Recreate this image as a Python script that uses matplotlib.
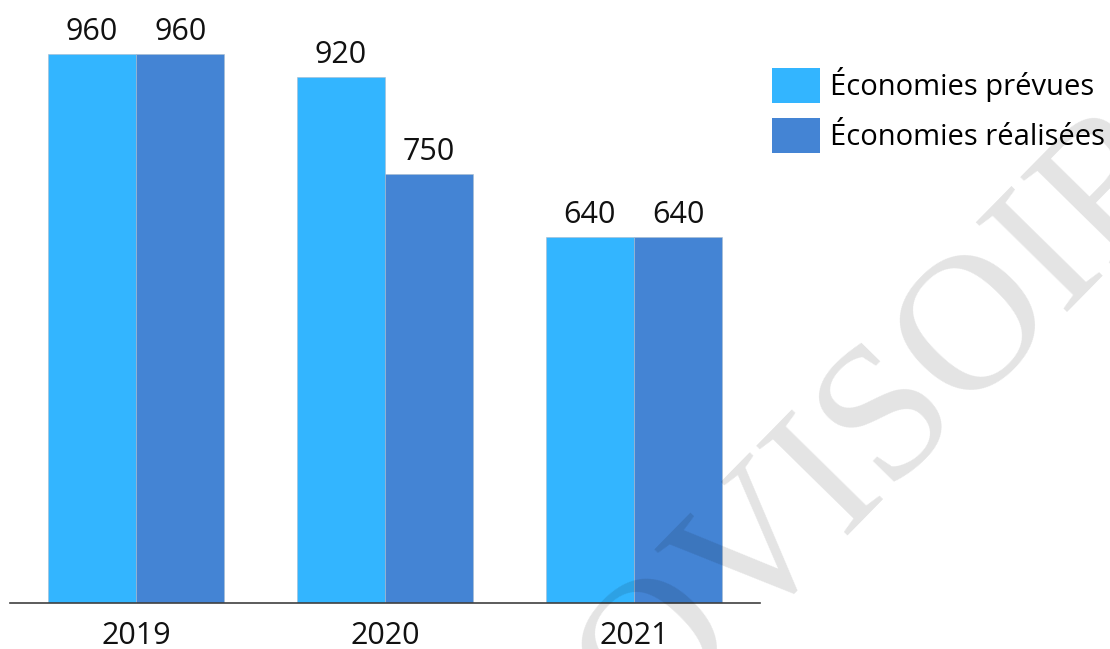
import numpy as np
import matplotlib
matplotlib.use("Agg")
import matplotlib.pyplot as plt
from matplotlib.patches import Patch

years = ["2019", "2020", "2021"]
prevues = [960, 920, 640]
realisees = [960, 750, 640]
series_names = ["Économies prévues", "Économies réalisées"]
colors = ["#33B5FF", "#4484D4"]

W, H = 1110, 649
fig = plt.figure(figsize=(W / 100, H / 100), dpi=100)
ax = fig.add_axes([10 / W, 1 - 603 / H, 750 / W, 603 / H])

x = np.arange(len(years))
width = 0.355
font = "Open Sans"
fs = 22

for offset, vals, col in [(-width / 2, prevues, colors[0]),
                          (width / 2, realisees, colors[1])]:
    bars = ax.bar(x + offset, vals, width, color=col,
                  edgecolor="#a9bccd", linewidth=0.4, zorder=2)
    for b, v in zip(bars, vals):
        ax.annotate(f"{v}", (b.get_x() + b.get_width() / 2, v),
                    xytext=(0, 5), textcoords="offset points",
                    ha="center", va="bottom", fontsize=fs,
                    family=font, color="#111111")

ax.set_xlim(-0.506, 2.506)
ax.set_ylim(0, 1054)
ax.set_xticks(x)
ax.set_xticklabels(years, fontsize=fs, family=font, color="#111111")
ax.tick_params(axis="x", length=0, pad=13)
ax.set_yticks([])
for side in ["top", "left", "right"]:
    ax.spines[side].set_visible(False)
ax.spines["bottom"].set_color("#404040")
ax.spines["bottom"].set_linewidth(1.2)
ax.spines["bottom"].set_zorder(3)

handles = [Patch(facecolor=c, edgecolor="none") for c in colors]
fig.legend(handles, series_names, loc="upper left",
           bbox_to_anchor=(772 / W, 1 - 67 / H), frameon=False,
           prop={"family": font, "size": 21}, borderpad=0,
           handlelength=1.64, handleheight=1.48, handletextpad=0.35,
           labelspacing=0.5, borderaxespad=0)

# draft watermark across the plot
fig.text(880 / W, 1 - 497 / H, "PROVISOIRE", rotation=45.5,
         rotation_mode="anchor", ha="center", va="baseline",
         fontsize=140, family="Liberation Serif", color="black",
         alpha=0.11, zorder=10)

fig.savefig("out.png", dpi=100)
